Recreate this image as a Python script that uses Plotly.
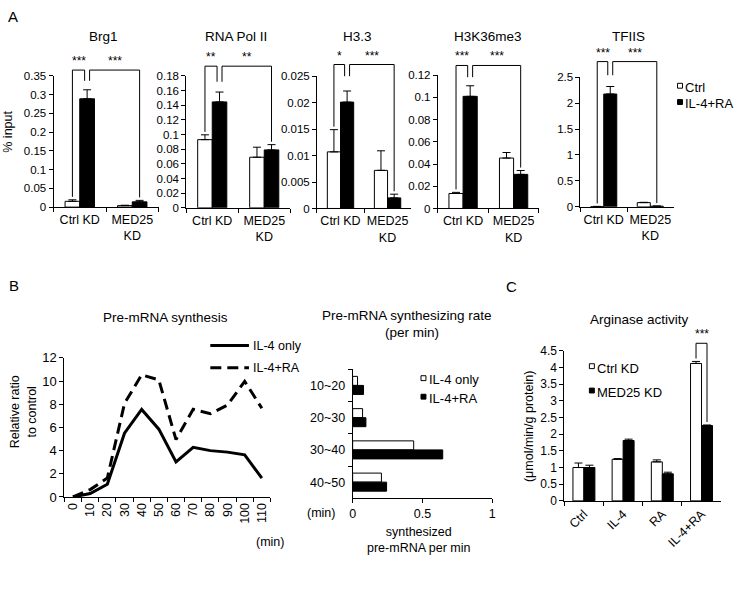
import plotly.graph_objects as go

W, H = 737, 593
FONT = "Liberation Sans, Arial, Helvetica, sans-serif"

# ---------------- data ----------------
a_categories = ["Ctrl KD", "MED25<br>KD"]
a_targets = ["Brg1", "RNA Pol II", "H3.3", "H3K36me3", "TFIIS"]

brg1_ctrl = [0.0155, 0.004]
brg1_ctrl_err = [0.004, 0.001]
brg1_il4ra = [0.289, 0.014]
brg1_il4ra_err = [0.024, 0.004]
brg1_ticks = [0, 0.05, 0.1, 0.15, 0.2, 0.25, 0.3, 0.35]

pol2_ctrl = [0.093, 0.069]
pol2_ctrl_err = [0.0066, 0.0137]
pol2_il4ra = [0.1445, 0.079]
pol2_il4ra_err = [0.0135, 0.0072]
pol2_ticks = [0, 0.02, 0.04, 0.06, 0.08, 0.1, 0.12, 0.14, 0.16, 0.18]

h33_ctrl = [0.0107, 0.0072]
h33_ctrl_err = [0.0042, 0.0037]
h33_il4ra = [0.0201, 0.002]
h33_il4ra_err = [0.0021, 0.0007]
h33_ticks = [0, 0.005, 0.01, 0.015, 0.02, 0.025]

h3k36_ctrl = [0.0135, 0.0454]
h3k36_ctrl_err = [0.001, 0.005]
h3k36_il4ra = [0.101, 0.0307]
h3k36_il4ra_err = [0.0095, 0.0035]
h3k36_ticks = [0, 0.02, 0.04, 0.06, 0.08, 0.1, 0.12]

tfiis_ctrl = [0.006, 0.081]
tfiis_ctrl_err = [0.002, 0.006]
tfiis_il4ra = [2.175, 0.012]
tfiis_il4ra_err = [0.145, 0.003]
tfiis_ticks = [0, 0.5, 1, 1.5, 2, 2.5]

a_significance = [["***", "***"], ["**", "**"], ["*", "***"], ["***", "***"], ["***", "***"]]

b1_minutes = ["0", "10", "20", "30", "40", "50", "60", "70", "80", "90", "100", "110"]
b1_il4_only = [0, 0.3, 1.1, 5.5, 7.55, 5.85, 3.03, 4.28, 4.0, 3.87, 3.64, 1.63]
b1_il4_ra = [0, 0.64, 1.63, 8.07, 10.54, 10.1, 4.95, 7.57, 7.18, 7.93, 9.98, 7.65]
b1_ticks = [0, 2, 4, 6, 8, 10, 12]

b2_intervals = ["10~20", "20~30", "30~40", "40~50"]
b2_il4_only = [0.035, 0.071, 0.437, 0.206]
b2_il4_ra = [0.078, 0.095, 0.645, 0.243]
b2_ticks = [0, 0.5, 1]

c_treatments = ["Ctrl", "IL-4", "RA", "IL-4+RA"]
c_ctrl_kd = [1.0, 1.247, 1.169, 4.12]
c_ctrl_kd_err = [0.135, 0.02, 0.06, 0.06]
c_med25_kd = [1.0, 1.81, 0.81, 2.26]
c_med25_kd_err = [0.07, 0.04, 0.05, 0.015]
c_ticks = [0, 0.5, 1, 1.5, 2, 2.5, 3, 3.5, 4, 4.5]
c_significance = "***"

# ---------------- layout helpers ----------------
BARGAP = 0.44
HALF = (1 - BARGAP) / 4


def px(x):
    return x / W


def py(y):
    return 1 - y / H


def fmt(v):
    return "%g" % v


def names(k):
    s = "" if k == 1 else str(k)
    return "x" + s, "y" + s, "xaxis" + s, "yaxis" + s


def base_axis(size):
    return dict(showline=True, linecolor="black", linewidth=1, ticks="outside",
                ticklen=4, tickwidth=1, tickcolor="black", showgrid=False,
                zeroline=False, fixedrange=True,
                tickfont=dict(family=FONT, size=size, color="black"))


fig = go.Figure()
layout = {}
shapes = []
annotations = []


def seg(xr, yr, x0, y0, x1, y1, width=1):
    shapes.append(dict(type="line", xref=xr, yref=yr, x0=x0, y0=y0, x1=x1, y1=y1,
                       line=dict(color="black", width=width)))


def text(x, y, s, size=13, xanchor="center", yanchor="middle", angle=0, xref="paper", yref="paper"):
    annotations.append(dict(x=x, y=y, xref=xref, yref=yref, text=s, showarrow=False,
                            xanchor=xanchor, yanchor=yanchor, textangle=angle,
                            font=dict(family=FONT, size=size, color="black")))


def err(arr):
    return dict(type="data", symmetric=False, array=arr, arrayminus=[0] * len(arr),
                color="black", thickness=1, width=4)


white_bar = dict(color="white", line=dict(color="black", width=1))
black_bar = dict(color="black", line=dict(color="black", width=1))

# ---------------- panel A ----------------
A_BOX = [(51, 157, 70.7, 205.3), (185, 290, 70.7, 206), (317, 412, 71, 206.7),
         (439, 541, 70, 206.7), (583, 677, 72, 205)]
A_TITLE_X = [101, 235, 358, 490, 631]
A_RISE = [6, 10, 12, 10, 16]
A_DROP = [11, 16, 12, 12, 14]
a_data = [
    (brg1_ctrl, brg1_ctrl_err, brg1_il4ra, brg1_il4ra_err, brg1_ticks),
    (pol2_ctrl, pol2_ctrl_err, pol2_il4ra, pol2_il4ra_err, pol2_ticks),
    (h33_ctrl, h33_ctrl_err, h33_il4ra, h33_il4ra_err, h33_ticks),
    (h3k36_ctrl, h3k36_ctrl_err, h3k36_il4ra, h3k36_il4ra_err, h3k36_ticks),
    (tfiis_ctrl, tfiis_ctrl_err, tfiis_il4ra, tfiis_il4ra_err, tfiis_ticks),
]

for i, (ctrl, ce, il, ie, ticks) in enumerate(a_data):
    k = i + 1
    xn, yn, xa, ya = names(k)
    l, r, t, b = A_BOX[i]
    fig.add_trace(go.Bar(x=a_categories, y=ctrl, name="Ctrl", marker=white_bar,
                         error_y=err(ce), xaxis=xn, yaxis=yn, showlegend=False))
    fig.add_trace(go.Bar(x=a_categories, y=il, name="IL-4+RA", marker=black_bar,
                         error_y=err(ie), xaxis=xn, yaxis=yn, showlegend=False))
    layout[xa] = dict(base_axis(12.5), domain=[px(l), px(r)], anchor=yn, type="category",
                      tickson="boundaries", range=[-0.5, 1.5], ticklabelstandoff=1,
                      tickangle=0)
    layout[ya] = dict(base_axis(11.5), domain=[py(b), py(t)], anchor=xn,
                      range=[0, ticks[-1]], tickvals=ticks, ticktext=[fmt(v) for v in ticks])
    text(px(A_TITLE_X[i]), py(30), a_targets[i], size=13.5)

    # significance brackets
    pw, ph, ymax = r - l, b - t, ticks[-1]
    xr, yr = xn + " domain", yn + " domain"

    def xf(c):
        return (c + 0.5) / 2

    top = 1 + A_RISE[i] / ph
    mid = top - A_DROP[i] / ph
    leg = 2.5 / pw
    wc, bc, mc = xf(-HALF), xf(HALF), xf(1 + HALF)
    lb = (ctrl[0] + ce[0]) / ymax + 3 / ph
    rb = (il[1] + ie[1]) / ymax + 3 / ph
    seg(xr, yr, wc, lb, wc, top)
    seg(xr, yr, wc, top, bc - leg, top)
    seg(xr, yr, bc - leg, top, bc - leg, mid)
    seg(xr, yr, bc + leg, mid, bc + leg, top)
    seg(xr, yr, bc + leg, top, mc, top)
    seg(xr, yr, mc, top, mc, rb)
    text((wc + bc - leg) / 2, top, a_significance[i][0], size=12, yanchor="bottom", xref=xr, yref=yr)
    text((bc + leg + mc) / 2, top, a_significance[i][1], size=12, yanchor="bottom", xref=xr, yref=yr)

text(px(5), py(128), "% input", size=12.5, angle=-90)
text(px(10), py(10), "A", size=15)


def legend_square(x, ytop, filled):
    shapes.append(dict(type="rect", xref="paper", yref="paper", x0=px(x), x1=px(x + 5),
                       y0=py(ytop + 5), y1=py(ytop), line=dict(color="black", width=1),
                       fillcolor="black" if filled else "white"))


legend_square(681, 78.3, False)
text(px(687), py(83), "Ctrl", size=13, xanchor="left")
legend_square(681, 95, True)
text(px(687), py(99.5), "IL-4+RA", size=13, xanchor="left")

# ---------------- panel B (line) ----------------
xn, yn, xa, ya = names(6)
l, r, t, b = (62, 270, 360, 502.7)
fig.add_trace(go.Scatter(x=b1_minutes, y=b1_il4_only, mode="lines", name="IL-4 only",
                         line=dict(color="black", width=3), xaxis=xn, yaxis=yn, showlegend=False))
fig.add_trace(go.Scatter(x=b1_minutes, y=b1_il4_ra, mode="lines", name="IL-4+RA",
                         line=dict(color="black", width=3, dash="11px,6px"),
                         xaxis=xn, yaxis=yn, showlegend=False))
layout[xa] = dict(base_axis(12.5), domain=[px(l), px(r)], anchor=yn, type="category",
                  tickson="boundaries", range=[-0.5, 11.5], tickangle=-90)
layout[ya] = dict(base_axis(13), domain=[py(b), py(t)], anchor=xn, range=[0, 12],
                  tickvals=b1_ticks, ticktext=[fmt(v) for v in b1_ticks])
text(px(164), py(318.5), "Pre-mRNA synthesis", size=13.5)
text(px(20), py(415), "Relative ratio<br>to control", size=12.5, angle=-90)
text(px(269.7), py(549), "(min)", size=12.5)
text(px(11), py(286), "B", size=15)
seg("paper", "paper", px(209.3), py(347.3), px(248.3), py(347.3), width=3)
shapes.append(dict(type="line", xref="paper", yref="paper", x0=px(209.3), x1=px(248.3),
                   y0=py(370), y1=py(370), line=dict(color="black", width=3, dash="11px,6px")))
text(px(250), py(348), "IL-4 only", size=12.5, xanchor="left")
text(px(250), py(370), "IL-4+RA", size=12.5, xanchor="left")

# ---------------- panel B (horizontal bars) ----------------
xn, yn, xa, ya = names(7)
l, r, t, b = (353, 494, 371.7, 504)
fig.add_trace(go.Bar(y=b2_intervals, x=b2_il4_only, orientation="h", name="IL-4 only",
                     marker=white_bar, xaxis=xn, yaxis=yn, showlegend=False))
fig.add_trace(go.Bar(y=b2_intervals, x=b2_il4_ra, orientation="h", name="IL-4+RA",
                     marker=black_bar, xaxis=xn, yaxis=yn, showlegend=False))
layout[xa] = dict(base_axis(12.5), domain=[px(l), px(r)], anchor=yn, range=[0, 1],
                  tickvals=b2_ticks, ticktext=[fmt(v) for v in b2_ticks])
layout[ya] = dict(base_axis(12.5), domain=[py(b), py(t)], anchor=xn, type="category",
                  tickson="boundaries", range=[3.5, -0.5], ticklabelstandoff=4)
text(px(408), py(317), "Pre-mRNA synthesizing rate", size=13.5)
text(px(413), py(334), "(per min)", size=13.5)
text(px(420), py(547), "synthesized<br>pre-mRNA per min", size=12.5)
text(px(321), py(519), "(min)", size=12.5)
legend_square(422, 378.3, False)
text(px(428), py(382.5), "IL-4 only", size=13, xanchor="left")
legend_square(422, 397.3, True)
text(px(428), py(401.7), "IL-4+RA", size=13, xanchor="left")

# ---------------- panel C ----------------
xn, yn, xa, ya = names(8)
l, r, t, b = (566.7, 725, 352.7, 506.7)
fig.add_trace(go.Bar(x=c_treatments, y=c_ctrl_kd, name="Ctrl KD", marker=white_bar,
                     error_y=err(c_ctrl_kd_err), xaxis=xn, yaxis=yn, showlegend=False))
fig.add_trace(go.Bar(x=c_treatments, y=c_med25_kd, name="MED25 KD", marker=black_bar,
                     error_y=err(c_med25_kd_err), xaxis=xn, yaxis=yn, showlegend=False))
layout[xa] = dict(base_axis(12.5), domain=[px(l), px(r)], anchor=yn, type="category",
                  tickson="boundaries", range=[-0.5, 3.5], tickangle=-45)
layout[ya] = dict(base_axis(12), domain=[py(b), py(t)], anchor=xn, range=[0, 4.5],
                  tickvals=c_ticks, ticktext=[fmt(v) for v in c_ticks])
text(px(643), py(320.5), "Arginase activity", size=13.5)
text(px(531), py(430), "(μmol/min/g protein)", size=12.5, angle=-90)
text(px(513), py(287), "C", size=15)
legend_square(592, 366, False)
text(px(598), py(370.5), "Ctrl KD", size=13, xanchor="left")
legend_square(592, 391, True)
text(px(598), py(395.7), "MED25 KD", size=13, xanchor="left")

pw, ph, ymax = r - l, b - t, c_ticks[-1]
xr, yr = xn + " domain", yn + " domain"
wc, bc = (3 - HALF + 0.5) / 4, (3 + HALF + 0.5) / 4
top = 1 + 7.7 / ph
lb = (c_ctrl_kd[3] + c_ctrl_kd_err[3]) / ymax + 3 / ph
rb = (c_med25_kd[3] + c_med25_kd_err[3]) / ymax + 3 / ph
seg(xr, yr, wc, lb, wc, top)
seg(xr, yr, wc, top, bc, top)
seg(xr, yr, bc, top, bc, rb)
text((wc + bc) / 2, top, c_significance, size=12, yanchor="bottom", xref=xr, yref=yr)

fig.update_layout(
    width=W, height=H, autosize=False,
    margin=dict(l=0, r=0, t=0, b=0),
    paper_bgcolor="white", plot_bgcolor="white",
    font=dict(family=FONT, size=12, color="black"),
    barmode="group", bargap=BARGAP, bargroupgap=0,
    shapes=shapes, annotations=annotations, showlegend=False,
    hovermode=False,
    **layout,
)

fig.write_html(
    "out.html",
    config={"displayModeBar": False, "staticPlot": True},
    post_script="document.body.style.margin='0';document.body.style.overflow='hidden';"
                "document.documentElement.style.overflow='hidden';",
)
